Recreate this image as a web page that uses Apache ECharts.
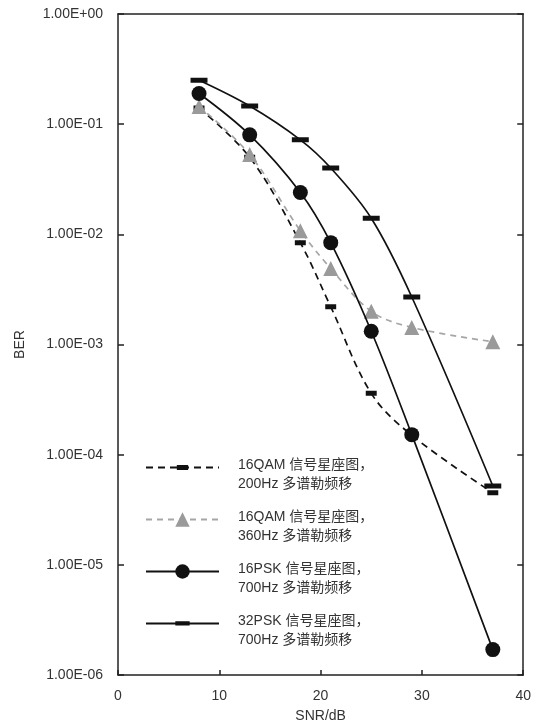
<!DOCTYPE html>
<html>
<head>
<meta charset="utf-8">
<script src="https://cdn.jsdelivr.net/npm/echarts@6/dist/echarts.min.js"></script>
<style>
html,body{margin:0;padding:0;background:#fff;}
#chart{width:534px;height:728px;}
</style>
</head>
<body>
<div id="chart"></div>
<script>
const snr = [8, 13, 18, 21, 25, 29, 37];
const ber16qam200 = [0.14, 0.050, 0.0084, 0.0022, 0.00036, 0.00015, 0.000045];
const ber16qam360 = [0.145, 0.053, 0.0108, 0.0049, 0.0020, 0.00143, 0.00106];
const ber16psk = [0.19, 0.080, 0.024, 0.0084, 0.00132, 0.000152, 0.0000017];
const ber32psk = [0.25, 0.146, 0.072, 0.040, 0.014, 0.0027, 0.000052];

const seriesNames = ['16QAM 200Hz', '16QAM 360Hz', '16PSK 700Hz', '32PSK 700Hz'];
const legendLine1 = ['16QAM 信号星座图，', '16QAM 信号星座图，', '16PSK 信号星座图，', '32PSK 信号星座图，'];
const legendLine2 = ['200Hz 多谱勒频移', '360Hz 多谱勒频移', '700Hz 多谱勒频移', '700Hz 多谱勒频移'];
const xTickLabels = ['0', '10', '20', '30', '40'];
const yTickLabels = ['1.00E-06', '1.00E-05', '1.00E-04', '1.00E-03', '1.00E-02', '1.00E-01', '1.00E+00'];

const FONT = '"Liberation Sans", Arial, "Noto Sans CJK SC", sans-serif';
const pairs = ys => snr.map((x, i) => [x, ys[i]]);

// bar-shaped symbols inside a square box (tiny corner dots keep the box)
const smallBar = 'path://M0,0h0.05v0.05h-0.05z M14,14h0.05v0.05h-0.05z M1.5,4.5h11v5h-11z';
const wideBar = 'path://M0,0h0.05v0.05h-0.05z M17,17h0.05v0.05h-0.05z M0,6h17v5h-17z';

const chart = echarts.init(document.getElementById('chart'), null, {renderer: 'canvas'});
chart.setOption({
  backgroundColor: '#fff',
  animation: false,
  textStyle: {fontFamily: FONT},
  grid: {left: 118, right: 8, top: 14, bottom: 50, containLabel: false},
  legend: {
    orient: 'vertical',
    left: 145,
    top: 448,
    padding: 0,
    itemWidth: 73,
    itemHeight: 18,
    itemGap: 9,
    data: seriesNames,
    formatter: name => {
      const i = seriesNames.indexOf(name);
      return '{s| }\n{t|' + legendLine1[i] + '}\n{t|' + legendLine2[i] + '}';
    },
    textStyle: {
      fontSize: 14, color: '#333', fontFamily: FONT, padding: [0, 0, 0, 14],
      rich: {
        s: {fontSize: 1, lineHeight: 14},
        t: {fontSize: 14, lineHeight: 19, color: '#333', fontFamily: FONT}
      }
    }
  },
  xAxis: [{
    type: 'value', min: 0, max: 40, interval: 10,
    name: 'SNR/dB', nameLocation: 'middle', nameGap: 34,
    nameTextStyle: {fontSize: 14, color: '#333', fontFamily: FONT},
    axisLine: {show: true, onZero: false, lineStyle: {color: '#222', width: 1.5}},
    axisTick: {show: true, inside: true, length: 5, lineStyle: {color: '#222', width: 1.5}},
    axisLabel: {fontSize: 14, color: '#333', margin: 14, fontFamily: FONT,
      formatter: v => xTickLabels[Math.round(v / 10)]},
    splitLine: {show: false}
  }, {
    type: 'value', min: 0, max: 40, interval: 10, position: 'top',
    axisLine: {show: true, onZero: false, lineStyle: {color: '#222', width: 1.5}},
    axisTick: {show: false}, axisLabel: {show: false}, splitLine: {show: false}
  }],
  yAxis: [{
    type: 'log', logBase: 10, min: 1e-6, max: 1, splitNumber: 6,
    name: 'BER', nameLocation: 'middle', nameGap: 91, nameRotate: 90,
    nameTextStyle: {fontSize: 14, color: '#333', fontFamily: FONT},
    axisLine: {show: true, onZero: false, lineStyle: {color: '#222', width: 1.5}},
    axisTick: {show: true, inside: true, length: 6, lineStyle: {color: '#222', width: 1.5}},
    minorTick: {show: false},
    axisLabel: {fontSize: 14, color: '#333', margin: 15, fontFamily: FONT,
      formatter: v => yTickLabels[Math.round(Math.log10(v)) + 6]},
    splitLine: {show: false}
  }, {
    type: 'log', logBase: 10, min: 1e-6, max: 1, splitNumber: 6, position: 'right',
    axisLine: {show: true, onZero: false, lineStyle: {color: '#222', width: 1.5}},
    axisTick: {show: true, inside: true, length: 6, lineStyle: {color: '#222', width: 1.5}},
    axisLabel: {show: false}, splitLine: {show: false}
  }],
  series: [{
    name: seriesNames[0], type: 'line', data: pairs(ber16qam200), smooth: 0.35,
    symbol: smallBar, symbolSize: 14, z: 3,
    lineStyle: {color: '#111', width: 1.7, type: [7, 5]},
    itemStyle: {color: '#111'}
  }, {
    name: seriesNames[1], type: 'line', data: pairs(ber16qam360), smooth: 0.35,
    symbol: 'triangle', symbolSize: 15, z: 4,
    lineStyle: {color: '#a6a6a6', width: 1.7, type: [6, 5]},
    itemStyle: {color: '#9a9a9a'}
  }, {
    name: seriesNames[2], type: 'line', data: pairs(ber16psk), smooth: 0.35,
    symbol: 'circle', symbolSize: 15, z: 5,
    lineStyle: {color: '#111', width: 1.7},
    itemStyle: {color: '#111'}
  }, {
    name: seriesNames[3], type: 'line', data: pairs(ber32psk), smooth: 0.35,
    symbol: wideBar, symbolSize: 17, z: 6,
    lineStyle: {color: '#111', width: 1.7},
    itemStyle: {color: '#111'}
  }]
});
</script>
</body>
</html>
